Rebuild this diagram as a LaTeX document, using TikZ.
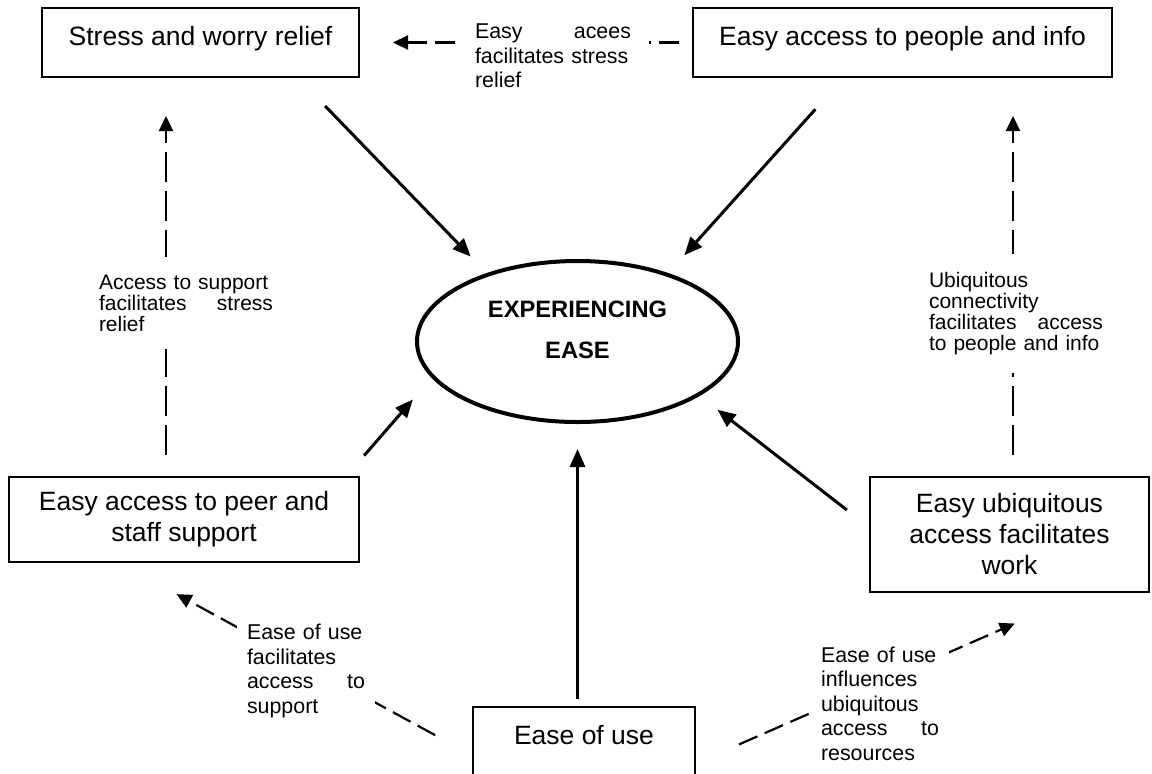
\documentclass[tikz,border=0pt]{standalone}
\usepackage{fontspec}
\setmainfont{Liberation Sans}
\usetikzlibrary{arrows.meta,shapes.geometric}

\tikzset{
  box/.style={draw,line width=1pt,minimum height=34.5pt,align=center,
    font=\fontsize{13.25}{15.5}\selectfont},
  onebox/.style={box,text depth=6.6pt},
  hub/.style={draw,ellipse,line width=2pt,minimum width=160.5pt,minimum height=80.5pt,
    align=center,text depth=12pt,font=\fontsize{11.85}{14}\selectfont\bfseries},
  note/.style={fill=white,align=left,inner sep=5pt,
    font=\fontsize{10.7}{12.25}\selectfont},
  sidenote/.style={note,inner xsep=3pt,inner ysep=9pt,
    font=\fontsize{10.5}{10.5}\selectfont},
  link/.style={line width=1.5pt,-{Triangle[length=9pt,width=7.5pt]}},
  hint/.style={line width=1.1pt,dash pattern=on 10pt off 4pt,
    -{Triangle[length=7.5pt,width=7pt]}},
  longhint/.style={hint,dash pattern=on 15pt off 4.5pt}
}

\begin{document}
\begin{tikzpicture}[x=0.5pt,y=-0.5pt]
  \useasboundingbox (0,0) rectangle (1152,773);

  % the five boxes and the hub
  \node[onebox,minimum width=158.5pt] (stress) at (200.5,42.5) {Stress and worry relief};
  \node[onebox,minimum width=209.5pt] (people) at (902.5,42.5) {Easy access to people and info};
  \node[hub] (exp) at (577.5,341.5) {EXPERIENCING\\[6.5pt]EASE};
  \node[box,minimum width=175pt,minimum height=42.5pt] (peer) at (184,519.5) {Easy access to peer and\\staff support};
  \node[box,minimum width=139.5pt,minimum height=57.5pt] (work) at (1009.5,534.5) {Easy ubiquitous\\access facilitates\\work};
  \node[onebox,minimum width=111pt] (ease) at (584,741.5) {Ease of use};

  % solid arrows into the hub
  \draw[link,shorten <=19.5pt,shorten >=11.5pt] (stress.-20) -- (exp.143);
  \draw[link,shorten <=21pt,shorten >=12pt] (people.211) -- (exp.37);
  \draw[link,shorten <=13.5pt,shorten >=14.3pt] (peer.15) -- (exp.194);
  \draw[link,shorten <=14pt,shorten >=11.3pt] (work.177) -- (exp.-24);
  \draw[link,shorten <=3.5pt,shorten >=12.5pt] (exp.south |- ease.north) -- (exp.south);

  % dashed influences
  \draw[hint,shorten <=6.5pt,shorten >=16.5pt] (people.west) -- (stress.east);
  \draw[longhint,shorten <=10.5pt,shorten >=19pt] ([xshift=-9pt]peer.north) -- ([xshift=-9pt]peer.north |- stress.south);
  \draw[longhint,shorten <=10.5pt,shorten >=19pt] ([xshift=1.75pt]work.north) -- ([xshift=1.75pt]work.north |- people.south);
  \draw[hint,shorten <=21pt,shorten >=32.5pt] (ease.187) -- (peer.214);
  \draw[hint,shorten <=23.5pt,shorten >=38pt] (ease.-11) -- (work.-38);

  % labels on the dashed lines
  \node[note,text width=78pt,inner xsep=9pt] (easyNote) at (553,56) {Easy\hfill acees\\facilitates stress\\relief};
  \node[sidenote,text width=87pt] (supportNote) at (186,303) {Access to support\\facilitates\hfill stress\\relief};
  \node[sidenote,text width=87pt] (connectNote) at (1016,313.5) {Ubiquitous\\connectivity\\facilitates\hfill access\\to people and info};
  \node[note,text width=59pt] (useNote) at (306,671) {Ease of use\\facilitates\\access\hfill to\\support};
  \node[note,text width=59pt] (resNote) at (880,703.5) {Ease of use\\influences\\ubiquitous\\access\hfill to\\resources};
\end{tikzpicture}
\end{document}
